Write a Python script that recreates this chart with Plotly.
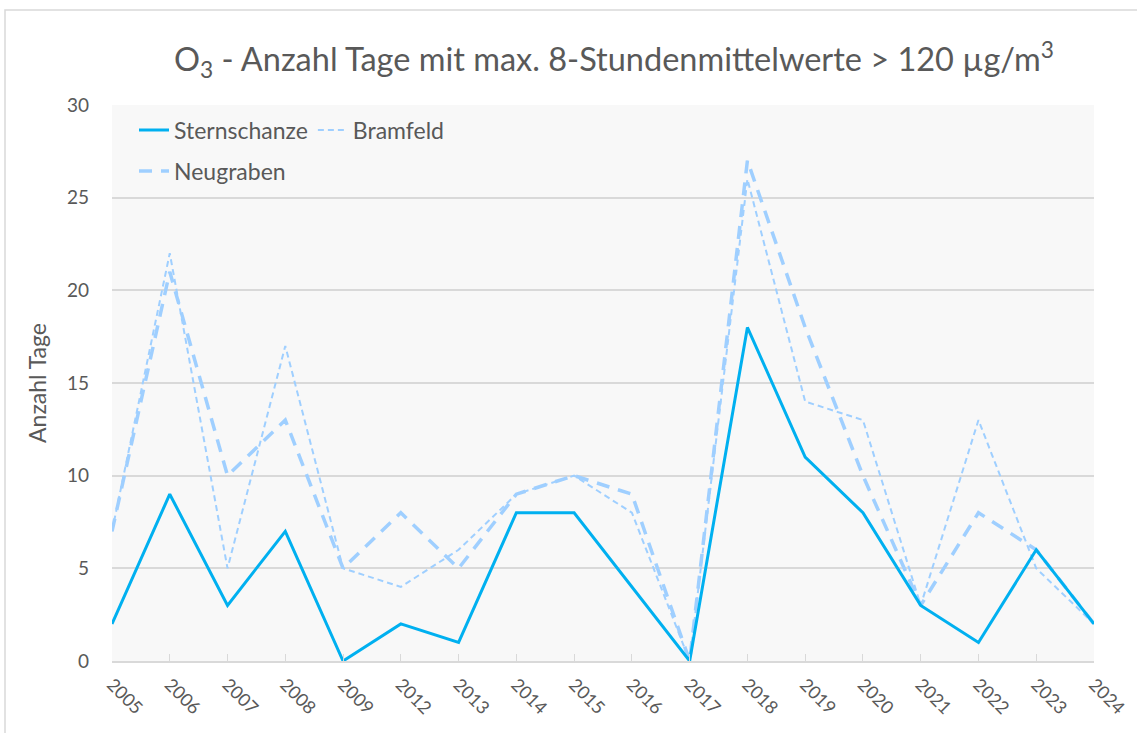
import plotly.graph_objects as go

years = ["2005", "2006", "2007", "2008", "2009", "2012", "2013", "2014", "2015",
         "2016", "2017", "2018", "2019", "2020", "2021", "2022", "2023", "2024"]
sternschanze = [2, 9, 3, 7, 0, 2, 1, 8, 8, 4, 0, 18, 11, 8, 3, 1, 6, 2]
bramfeld = [7, 22, 5, 17, 5, 4, 6, 9, 10, 8, 0, 26, 14, 13, 3, 13, 5, 2]
neugraben = [7, 21, 10, 13, 5, 8, 5, 9, 10, 9, 0, 27, 18, 10, 3, 8, 6, 2]
y_ticks = [0, 5, 10, 15, 20, 25, 30]

FONT = "Lato"
GRAY = "#595959"

fig = go.Figure()
fig.add_trace(go.Scatter(x=years, y=neugraben, name="Neugraben", mode="lines",
                         line=dict(color="#9fcfff", width=3.5, dash="13px,9px"),
                         legend="legend2"))
fig.add_trace(go.Scatter(x=years, y=bramfeld, name="Bramfeld", mode="lines",
                         line=dict(color="#9fcfff", width=2, dash="6px,4px"),
                         legend="legend"))
fig.add_trace(go.Scatter(x=years, y=sternschanze, name="Sternschanze", mode="lines",
                         line=dict(color="#00b0f0", width=3),
                         legend="legend"))

L, R, T, B = 112, 1094, 105, 661
W, H = 1137, 733

def px_x(p):
    return (p - L) / (R - L)

def px_y(p):
    return (B - p) / (B - T)

fig.update_layout(
    width=W, height=H,
    margin=dict(l=L, r=W - R, t=T, b=H - B, pad=0),
    paper_bgcolor="white",
    plot_bgcolor="#f8f8f8",
    font=dict(family=FONT, color=GRAY, size=18),
    title=dict(text="O<sub>3</sub> - Anzahl Tage mit max. 8-Stundenmittelwerte > 120 µg/m<sup>3</sup>",
               x=614 / W, xanchor="center", xref="container",
               y=1 - 60 / H, yanchor="middle", yref="container",
               font=dict(family=FONT, size=32.5, color=GRAY)),
    xaxis=dict(type="category", range=[0, len(years) - 1], automargin=False,
               showgrid=False, showline=True, linecolor="#d9d9d9", linewidth=2,
               ticks="inside", ticklen=7, tickcolor="#d9d9d9",
               tickangle=45, ticklabelstandoff=4, tickfont=dict(size=18, color=GRAY)),
    yaxis=dict(range=[0, 30], tickvals=y_ticks, showgrid=True, automargin=False,
               gridcolor="#d9d9d9", gridwidth=1.5, zeroline=False,
               showline=False, ticks="", ticklabelstandoff=22,
               tickfont=dict(size=19, color=GRAY),
               title=dict(text="Anzahl Tage", font=dict(size=23, color=GRAY), standoff=13)),
    legend=dict(orientation="h", x=px_x(134), y=px_y(130), xanchor="left", yanchor="middle",
                bgcolor="rgba(0,0,0,0)", font=dict(size=23, color=GRAY),
                traceorder="reversed", itemwidth=30, tracegroupgap=0),
    legend2=dict(orientation="h", x=px_x(134), y=px_y(171), xanchor="left", yanchor="middle",
                 bgcolor="rgba(0,0,0,0)", font=dict(size=23, color=GRAY), itemwidth=30),
    showlegend=True,
)

fig.add_shape(type="rect", xref="paper", yref="paper",
              x0=px_x(5), x1=px_x(1145), y0=px_y(745), y1=px_y(10),
              line=dict(color="#d9d9d9", width=1.5), fillcolor="rgba(0,0,0,0)",
              layer="below")

fig.write_html("out.html", config={"displayModeBar": False},
               post_script="document.body.style.margin='0';document.body.style.overflow='hidden';")
